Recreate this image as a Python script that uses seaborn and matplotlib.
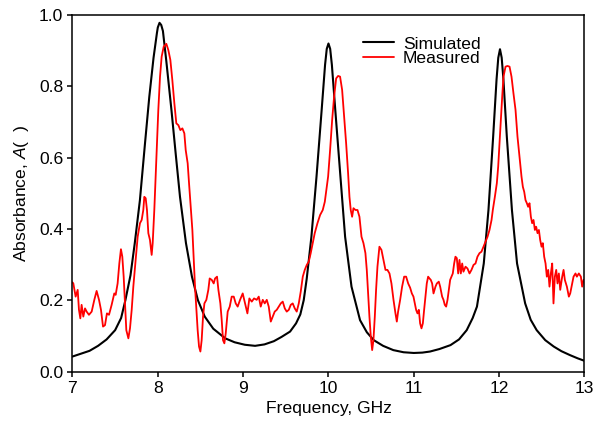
import matplotlib
matplotlib.use("Agg")
import matplotlib.pyplot as plt
import seaborn as sns
import pandas as pd

# Simulated absorbance
sim_freq = [7.0, 7.1, 7.2, 7.3, 7.4, 7.5, 7.57, 7.62, 7.68, 7.73, 7.79, 7.85, 7.9, 7.95, 7.99,
            8.0, 8.02, 8.04, 8.06, 8.1, 8.16, 8.21, 8.26, 8.33, 8.4, 8.47, 8.55, 8.65, 8.79, 8.9,
            9.02, 9.14, 9.25, 9.36, 9.45, 9.55, 9.62, 9.67, 9.71, 9.745, 9.8, 9.86, 9.92, 9.96,
            9.98, 10.0, 10.02, 10.04, 10.08, 10.14, 10.195, 10.27, 10.37, 10.45, 10.53, 10.64,
            10.76, 10.88, 11.0, 11.1, 11.19, 11.3, 11.43, 11.53, 11.62, 11.69, 11.74, 11.82,
            11.875, 11.93, 11.97, 11.99, 12.01, 12.03, 12.05, 12.09, 12.15, 12.21, 12.305, 12.37,
            12.44, 12.54, 12.64, 12.73, 12.83, 12.92, 13.0]
sim_abs = [0.042, 0.05, 0.058, 0.072, 0.09, 0.116, 0.15, 0.20, 0.27, 0.36, 0.48, 0.64, 0.77, 0.88, 0.95,
           0.965, 0.978, 0.972, 0.955, 0.87, 0.733, 0.61, 0.49, 0.36, 0.266, 0.2, 0.154, 0.12, 0.093, 0.082,
           0.075, 0.072, 0.076, 0.085, 0.097, 0.112, 0.135, 0.16, 0.2, 0.26, 0.378, 0.547, 0.733, 0.86,
           0.905, 0.92, 0.905, 0.86, 0.733, 0.547, 0.378, 0.238, 0.144, 0.11, 0.088, 0.072,
           0.06, 0.054, 0.052, 0.053, 0.056, 0.063, 0.074, 0.09, 0.116, 0.15, 0.182, 0.303,
           0.453, 0.659, 0.82, 0.88, 0.904, 0.88, 0.82, 0.659, 0.453, 0.303, 0.191, 0.145,
           0.116, 0.088, 0.07, 0.057, 0.046, 0.037, 0.03]

# Measured absorbance
meas_freq = [7.0, 7.010, 7.037, 7.061, 7.076, 7.092, 7.107, 7.127, 7.147, 7.166, 7.193, 7.225, 7.256,
             7.283, 7.311, 7.334, 7.358, 7.381, 7.404, 7.428, 7.459, 7.490, 7.506, 7.529, 7.549,
             7.568, 7.584, 7.600, 7.616, 7.631, 7.655, 7.674, 7.694, 7.713, 7.733, 7.764, 7.791,
             7.811, 7.830, 7.842, 7.858, 7.873, 7.889, 7.908, 7.928, 7.940, 7.959, 7.975, 7.991,
             8.006, 8.026, 8.045, 8.069, 8.100, 8.123, 8.147, 8.170, 8.194, 8.217, 8.241, 8.264,
             8.288, 8.311, 8.327, 8.350, 8.366, 8.389, 8.405, 8.420, 8.436, 8.452, 8.467, 8.483,
             8.499, 8.514, 8.530, 8.546, 8.569, 8.592, 8.608, 8.632, 8.655, 8.671, 8.694, 8.710,
             8.733, 8.749, 8.764, 8.780, 8.796, 8.819, 8.843, 8.866, 8.890, 8.913, 8.936,
             8.964, 8.995, 9.023, 9.050, 9.073, 9.101, 9.128, 9.159, 9.183, 9.206, 9.230, 9.253,
             9.277, 9.300, 9.324, 9.347, 9.370, 9.394, 9.417, 9.441, 9.464, 9.488, 9.511, 9.535,
             9.558, 9.581, 9.605, 9.628, 9.652, 9.675, 9.699, 9.722, 9.746, 9.769, 9.792, 9.816,
             9.839, 9.871, 9.902, 9.933, 9.957, 9.980, 9.996, 10.019, 10.043, 10.066, 10.090,
             10.113, 10.136, 10.160, 10.183, 10.207, 10.230, 10.246, 10.261, 10.277, 10.293,
             10.316, 10.340, 10.363, 10.387, 10.410, 10.433, 10.449, 10.465, 10.480, 10.496,
             10.512, 10.527, 10.543, 10.558, 10.574, 10.597, 10.621, 10.644, 10.668, 10.691,
             10.715, 10.738, 10.762, 10.785, 10.801, 10.816, 10.840, 10.863, 10.887, 10.910,
             10.934, 10.957, 10.977, 10.996, 11.012, 11.027, 11.043, 11.059, 11.074, 11.090,
             11.106, 11.121, 11.137, 11.152, 11.168, 11.184, 11.199, 11.215, 11.231, 11.254,
             11.270, 11.293, 11.309, 11.332, 11.348, 11.363, 11.379, 11.395, 11.410, 11.426,
             11.442, 11.457, 11.473, 11.488, 11.504, 11.520, 11.535, 11.551, 11.567, 11.582,
             11.606, 11.629, 11.653, 11.676, 11.700, 11.723, 11.746, 11.770, 11.793, 11.817,
             11.840, 11.864, 11.887, 11.911, 11.926, 11.950, 11.973, 11.989, 12.004, 12.020,
             12.036, 12.051, 12.075, 12.098, 12.122, 12.145, 12.168, 12.192, 12.215, 12.239,
             12.262, 12.278, 12.294, 12.309, 12.325, 12.340, 12.356, 12.372, 12.387, 12.403,
             12.419, 12.434, 12.450, 12.466, 12.481, 12.497, 12.512, 12.528, 12.544, 12.559,
             12.575, 12.590, 12.606, 12.622, 12.637, 12.653, 12.669, 12.684, 12.700, 12.716,
             12.739, 12.755, 12.770, 12.794, 12.817, 12.833, 12.856, 12.872, 12.895, 12.911,
             12.934, 12.958, 12.973, 12.989]
meas_abs = [0.250, 0.247, 0.210, 0.229, 0.173, 0.149, 0.187, 0.154, 0.177, 0.168, 0.159, 0.168, 0.201,
            0.226, 0.201, 0.173, 0.126, 0.130, 0.163, 0.159, 0.187, 0.219, 0.215, 0.247, 0.303,
            0.343, 0.322, 0.266, 0.191, 0.116, 0.093, 0.121, 0.173, 0.238, 0.294, 0.378, 0.416,
            0.425, 0.453, 0.490, 0.486, 0.453, 0.388, 0.369, 0.327, 0.360, 0.453, 0.547, 0.640,
            0.734, 0.827, 0.883, 0.911, 0.919, 0.902, 0.874, 0.818, 0.752, 0.696, 0.691, 0.677,
            0.682, 0.668, 0.621, 0.584, 0.528, 0.453, 0.397, 0.322, 0.238, 0.173, 0.116, 0.070,
            0.056, 0.088, 0.154, 0.191, 0.201, 0.229, 0.261, 0.257, 0.247, 0.261, 0.266, 0.229,
            0.191, 0.144, 0.088, 0.079, 0.107, 0.168, 0.182, 0.210, 0.210, 0.191, 0.182,
            0.201, 0.219, 0.191, 0.163, 0.205, 0.196, 0.205, 0.201, 0.210, 0.182, 0.201, 0.191,
            0.201, 0.182, 0.140, 0.154, 0.168, 0.173, 0.182, 0.191, 0.196, 0.177, 0.168, 0.173,
            0.187, 0.191, 0.177, 0.168, 0.191, 0.224, 0.266, 0.285, 0.299, 0.308, 0.332, 0.360,
            0.388, 0.416, 0.439, 0.453, 0.476, 0.518, 0.547, 0.621, 0.705, 0.771, 0.822,
            0.829, 0.827, 0.790, 0.715, 0.640, 0.556, 0.490, 0.453, 0.434, 0.458,
            0.453, 0.453, 0.434, 0.378, 0.360, 0.332, 0.285, 0.219, 0.154, 0.098,
            0.060, 0.088, 0.154, 0.229, 0.294, 0.350, 0.341, 0.313, 0.285, 0.285,
            0.275, 0.247, 0.201, 0.163, 0.140, 0.168, 0.201, 0.238, 0.266, 0.266,
            0.247, 0.235, 0.219, 0.210, 0.191, 0.173, 0.163, 0.173, 0.135, 0.121,
            0.135, 0.173, 0.210, 0.247, 0.266, 0.261, 0.257, 0.247, 0.219, 0.238,
            0.247, 0.252, 0.238, 0.210, 0.201, 0.187, 0.182, 0.201, 0.229, 0.257,
            0.266, 0.275, 0.303, 0.322, 0.318, 0.275, 0.313, 0.275, 0.303, 0.280,
            0.294, 0.289, 0.275, 0.285, 0.299, 0.303, 0.322, 0.332, 0.336, 0.350,
            0.364, 0.378, 0.397, 0.425, 0.453, 0.490, 0.528, 0.575, 0.640, 0.705,
            0.771, 0.827, 0.855, 0.857, 0.855, 0.827, 0.780, 0.734, 0.659, 0.603,
            0.547, 0.518, 0.504, 0.481, 0.472, 0.462, 0.472, 0.434, 0.416, 0.425,
            0.397, 0.406, 0.388, 0.397, 0.369, 0.350, 0.360, 0.322, 0.303, 0.266,
            0.285, 0.238, 0.275, 0.303, 0.191, 0.266, 0.285, 0.247, 0.275, 0.229,
            0.266, 0.285, 0.257, 0.238, 0.210, 0.219, 0.247, 0.266, 0.275, 0.266,
            0.275, 0.266, 0.238, 0.257]

sns.set_style("ticks")
plt.rcParams['font.family'] = ['Liberation Sans', 'DejaVu Sans']
plt.rcParams['mathtext.fontset'] = 'custom'
plt.rcParams['mathtext.it'] = 'Liberation Sans:italic'
plt.rcParams['mathtext.rm'] = 'Liberation Sans'
plt.rcParams['text.color'] = 'black'
plt.rcParams['axes.labelcolor'] = 'black'
plt.rcParams['xtick.color'] = 'black'
plt.rcParams['ytick.color'] = 'black'

sim_df = pd.DataFrame({'freq': sim_freq, 'abs': sim_abs})
meas_df = pd.DataFrame({'freq': meas_freq, 'abs': meas_abs})

fig = plt.figure(figsize=(5.97, 4.28), dpi=100)
ax = fig.add_axes([0.1214, 0.132, 0.8576, 0.833])

sns.lineplot(data=sim_df, x='freq', y='abs', ax=ax, color='black', linewidth=1.5,
             estimator=None, label='Simulated')
sns.lineplot(data=meas_df, x='freq', y='abs', ax=ax, color='#ff0000', linewidth=1.3,
             estimator=None, label='Measured')

ax.set_xlim(7, 13)
ax.set_ylim(0, 1.0)
ax.set_xticks([7, 8, 9, 10, 11, 12, 13])
ax.set_yticks([0.0, 0.2, 0.4, 0.6, 0.8, 1.0])
ax.set_yticklabels(['0.0', '0.2', '0.4', '0.6', '0.8', '1.0'])
ax.tick_params(axis='both', labelsize=12.6, length=3.6, width=1.1, direction='out', pad=3)
for sp in ax.spines.values():
    sp.set_linewidth(1.1)
    sp.set_color('black')

ax.set_xlabel('Frequency, GHz', fontsize=12.6, labelpad=4)
ax.set_ylabel('Absorbance, $\\mathit{A}$(  )', fontsize=12.6, labelpad=6)

ax.legend(loc='upper left', bbox_to_anchor=(0.567, 0.94), frameon=False, fontsize=12.6,
          handlelength=1.8, handletextpad=0.5, labelspacing=-0.05, borderaxespad=0, borderpad=0)

fig.savefig('out.png', dpi=100)
